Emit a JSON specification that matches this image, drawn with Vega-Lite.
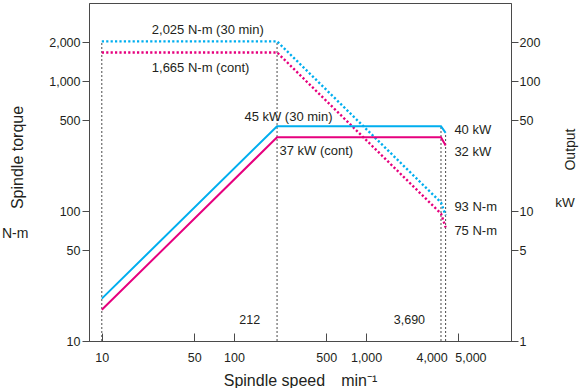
{
  "$schema": "https://vega.github.io/schema/vega-lite/v6.json",
  "autosize": {"type": "none"},
  "padding": {"left": 89, "top": 3, "right": 74, "bottom": 47},
  "width": 422,
  "height": 338,
  "background": "white",
  "config": {
    "view": {"stroke": "#4a4a4a", "strokeWidth": 1},
    "font": "Liberation Sans",
    "axis": {
      "grid": false,
      "domainColor": "#4a4a4a",
      "tickColor": "#4a4a4a",
      "labelColor": "#231f20",
      "titleColor": "#231f20",
      "labelFont": "Liberation Sans",
      "titleFont": "Liberation Sans",
      "labelFontSize": 12.5,
      "titleFontWeight": "normal"
    },
    "text": {"font": "Liberation Sans", "fontSize": 13, "color": "#231f20"}
  },
  "datasets": {
    "torque": [
      {"series": "30 min", "rpm": 10, "torque": 2025},
      {"series": "30 min", "rpm": 212, "torque": 2025},
      {"series": "30 min", "rpm": 3690, "torque": 116.5},
      {"series": "30 min", "rpm": 4000, "torque": 93},
      {"series": "cont", "rpm": 10, "torque": 1665},
      {"series": "cont", "rpm": 212, "torque": 1665},
      {"series": "cont", "rpm": 3690, "torque": 95.7},
      {"series": "cont", "rpm": 4000, "torque": 75}
    ],
    "output": [
      {"series": "30 min", "rpm": 10, "kw": 2.12},
      {"series": "30 min", "rpm": 212, "kw": 45},
      {"series": "30 min", "rpm": 3690, "kw": 45},
      {"series": "30 min", "rpm": 4000, "kw": 40},
      {"series": "cont", "rpm": 10, "kw": 1.74},
      {"series": "cont", "rpm": 212, "kw": 37},
      {"series": "cont", "rpm": 3690, "kw": 37},
      {"series": "cont", "rpm": 4000, "kw": 32}
    ],
    "vlines": [
      {"rpm": 10, "y1": 10, "y2": 2025},
      {"rpm": 212, "y1": 10, "y2": 2025},
      {"rpm": 3690, "y1": 10, "y2": 450},
      {"rpm": 4000, "y1": 10, "y2": 400}
    ],
    "labels": [
      {"rpm": 23.9, "val": 2483, "text": "2,025 N-m (30 min)", "align": "left", "size": 13},
      {"rpm": 23.9, "val": 1259, "text": "1,665 N-m (cont)", "align": "left", "size": 13},
      {"rpm": 120, "val": 533, "text": "45 kW (30 min)", "align": "left", "size": 13},
      {"rpm": 221, "val": 290, "text": "37 kW (cont)", "align": "left", "size": 13},
      {"rpm": 4660, "val": 422, "text": "40 kW", "align": "left", "size": 13},
      {"rpm": 4660, "val": 284, "text": "32 kW", "align": "left", "size": 13},
      {"rpm": 4660, "val": 107, "text": "93 N-m", "align": "left", "size": 13},
      {"rpm": 4660, "val": 70.6, "text": "75 N-m", "align": "left", "size": 13},
      {"rpm": 158, "val": 14.5, "text": "212", "align": "right", "size": 12.5},
      {"rpm": 2795, "val": 14.5, "text": "3,690", "align": "right", "size": 12.5},
      {"rpm": 2.21, "val": 66.7, "text": "N-m", "align": "center", "size": 14},
      {"rpm": 32070, "val": 115.6, "text": "kW", "align": "center", "size": 13.5}
    ]
  },
  "encoding": {
    "x": {
      "field": "rpm",
      "type": "quantitative",
      "scale": {"type": "log", "domain": [8, 12500], "nice": false},
      "axis": {
        "values": [10, 50, 100, 500, 1000, 4000, 5000],
        "format": ",",
        "tickSize": -8,
        "labelPadding": 18,
        "labelOffset": {"condition": [{"test": "datum.value == 4000", "value": -14}, {"test": "datum.value == 5000", "value": 12}], "value": 0},
        "tickOpacity": {"condition": {"test": "datum.value == 4000", "value": 0}, "value": 1},
        "title": "Spindle speed\u2003min\u207b\u00b9",
        "titleFontSize": 16,
        "titleX": 211,
        "titleY": 39,
        "titleBaseline": "middle",
        "titleAnchor": "middle",
        "labelFlush": false
      }
    }
  },
  "layer": [
    {
      "encoding": {
        "y": {
          "type": "quantitative",
          "scale": {"type": "log", "domain": [10, 4000], "nice": false},
          "axis": {
            "orient": "left",
            "values": [10, 50, 100, 500, 1000, 2000],
            "format": ",",
            "tickSize": 7,
            "labelPadding": 2,
            "title": "Spindle torque",
            "titleFontSize": 16,
            "titleAngle": -90,
            "titleX": -72,
            "titleY": 154,
            "titleBaseline": "middle",
            "titleAlign": "center",
            "labelFlush": false
          }
        }
      },
      "layer": [
        {
          "data": {"name": "vlines"},
          "mark": {"type": "rule", "color": "#4a4a4a", "strokeWidth": 1, "strokeDash": [2, 2]},
          "encoding": {
            "y": {"field": "y1", "type": "quantitative"},
            "y2": {"field": "y2"}
          }
        },
        {
          "data": {"name": "torque"},
          "mark": {"type": "line", "strokeWidth": 2.4, "strokeDash": [2.2, 2.2]},
          "encoding": {
            "y": {"field": "torque", "type": "quantitative"},
            "color": {
              "field": "series",
              "type": "nominal",
              "scale": {"domain": ["30 min", "cont"], "range": ["#00AEEF", "#E6007E"]},
              "legend": null
            }
          }
        },
        {
          "data": {"name": "labels"},
          "transform": [{"filter": "datum.align == 'left'"}],
          "mark": {"type": "text", "baseline": "middle", "align": "left"},
          "encoding": {
            "y": {"field": "val", "type": "quantitative"},
            "text": {"field": "text"},
            "size": {"field": "size", "type": "quantitative", "scale": null}
          }
        },
        {
          "data": {"name": "labels"},
          "transform": [{"filter": "datum.align == 'right'"}],
          "mark": {"type": "text", "baseline": "middle", "align": "right"},
          "encoding": {
            "y": {"field": "val", "type": "quantitative"},
            "text": {"field": "text"},
            "size": {"field": "size", "type": "quantitative", "scale": null}
          }
        },
        {
          "data": {"name": "labels"},
          "transform": [{"filter": "datum.align == 'center'"}],
          "mark": {"type": "text", "baseline": "middle", "align": "center"},
          "encoding": {
            "y": {"field": "val", "type": "quantitative"},
            "text": {"field": "text"},
            "size": {"field": "size", "type": "quantitative", "scale": null}
          }
        }
      ]
    },
    {
      "data": {"name": "output"},
      "mark": {"type": "line", "strokeWidth": 2},
      "encoding": {
        "y": {
          "field": "kw",
          "type": "quantitative",
          "scale": {"type": "log", "domain": [1, 400], "nice": false},
          "axis": {
            "orient": "right",
            "values": [1, 5, 10, 50, 100, 200],
            "format": ",",
            "tickSize": 7,
            "labelPadding": 1,
            "title": "Output",
            "titleFontSize": 14,
            "titleAngle": -90,
            "titleX": 59,
            "titleY": 146,
            "titleBaseline": "middle",
            "titleAlign": "center",
            "labelFlush": false
          }
        },
        "color": {
          "field": "series",
          "type": "nominal",
          "scale": {"domain": ["30 min", "cont"], "range": ["#00AEEF", "#E6007E"]},
          "legend": null
        }
      }
    }
  ],
  "resolve": {"scale": {"y": "independent"}}
}
